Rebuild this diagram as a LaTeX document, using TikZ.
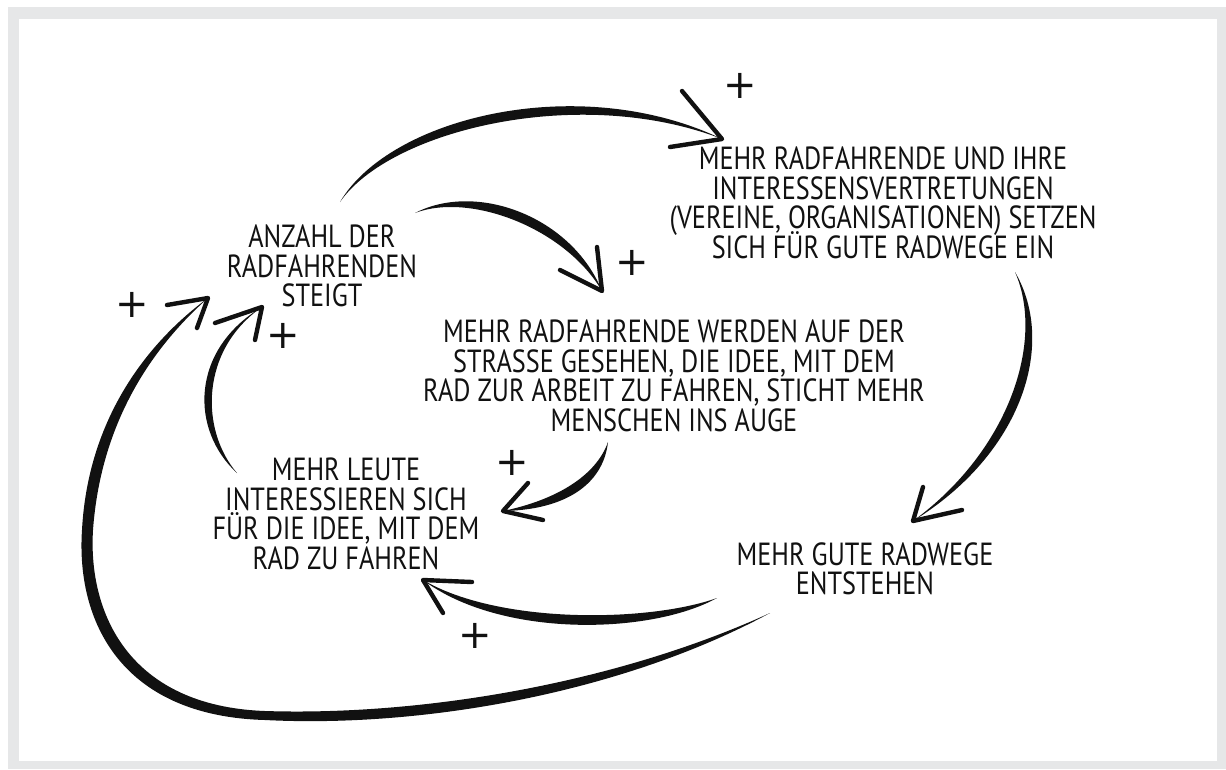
\documentclass[tikz,border=0pt]{standalone}
\usepackage{fontspec}
\usetikzlibrary{calc}
\newfontfamily\handfont[FakeStretch=0.82]{PT Sans}
\newfontfamily\plusfont{DejaVu Sans}
\newcommand*\ideafont{\handfont\fontsize{32}{29.5}\selectfont\lineskiplimit=-30pt\relax}
\definecolor{framegray}{HTML}{E6E7E8}
\definecolor{ink}{HTML}{111111}
% a tapered arrow body: start, control 1, control 2, end, offset of the far edge
\newcommand*\taper[5]{%
  \fill[ink] #1 .. controls #2 and #3 .. #4 .. controls ($#3+#5$) and ($#2+#5$) .. #1;}
\tikzset{
  idea/.style={align=center, inner sep=0pt, text=ink, font=\ideafont},
  plus/.style={inner sep=0pt, text=ink, font=\plusfont\fontsize{40}{40}\selectfont},
  wing/.style={draw=ink, line width=4.4pt, line cap=round, line join=round}
}

\begin{document}
\begin{tikzpicture}[x=1pt,y=-1pt]
  \useasboundingbox (0,0) rectangle (1226,769);

  % Frame
  \fill[framegray] (8,7) rectangle (1226,769);
  \fill[white] (19,19) rectangle (1217,761);

  % The ideas of the loop
  \node[idea] (anzahl) at (322,266) {ANZAHL DER\\RADFAHRENDEN\\STEIGT};
  \node[idea] (vereine) at (883,203) {MEHR RADFAHRENDE UND IHRE\\INTERESSENSVERTRETUNGEN\\(VEREINE, ORGANISATIONEN) SETZEN\\SICH FÜR GUTE RADWEGE EIN};
  \node[idea] (strasse) at (674,376) {MEHR RADFAHRENDE WERDEN AUF DER\\STRASSE GESEHEN, DIE IDEE, MIT DEM\\RAD ZUR ARBEIT ZU FAHREN, STICHT MEHR\\MENSCHEN INS AUGE};
  \node[idea] (leute) at (346,514) {MEHR LEUTE\\INTERESSIEREN SICH\\FÜR DIE IDEE, MIT DEM\\RAD ZU FAHREN};
  \node[idea] (radwege) at (865,569) {MEHR GUTE RADWEGE\\ENTSTEHEN};

  % Ends of the arrows
  \coordinate (anzahl-a) at (340,202);
  \coordinate (anzahl-b) at (415,213);
  \coordinate (anzahl-c) at (208,298);
  \coordinate (anzahl-d) at (262,307);
  \coordinate (vereine-in) at (722,139);
  \coordinate (vereine-out) at (1015,272);
  \coordinate (strasse-in) at (602,291);
  \coordinate (strasse-out) at (608,442);
  \coordinate (radwege-in) at (913,521);
  \coordinate (radwege-a) at (717,598);
  \coordinate (radwege-b) at (770,613);
  \coordinate (leute-in) at (423,580);
  \coordinate (leute-out) at (237,473);
  \coordinate (leute-side) at (503,511);

  % Anzahl -> Vereine
  \taper{(anzahl-a)}{(390,130)}{(580,84)}{(vereine-in)}{(0,-13)}
  \draw[wing] (682,91) -- (vereine-in) -- (670,147);
  \node[plus] (p1) at (740,86) {+};

  % Anzahl -> Strasse
  \taper{(anzahl-b)}{(470,192)}{(565,228)}{(strasse-in)}{(7,-11)}
  \draw[wing] (597,247) -- (strasse-in) -- (560,270);
  \node[plus] (p2) at (632,263) {+};

  % Vereine -> Radwege
  \taper{(vereine-out)}{(1045,340)}{(1010,450)}{(radwege-in)}{(12,4)}
  \draw[wing] (923,487) -- (radwege-in) -- (962,510);

  % Strasse -> Leute
  \taper{(strasse-out)}{(596,476)}{(556,500)}{(leute-side)}{(7,10)}
  \draw[wing] (528,483) -- (leute-side) -- (543,520);
  \node[plus] (p3) at (512,463) {+};

  % Radwege -> Leute
  \taper{(radwege-a)}{(650,622)}{(500,625)}{(leute-in)}{(0,13)}
  \draw[wing] (472,582) -- (leute-in) -- (443,613);
  \node[plus] (p4) at (475,636) {+};

  % Radwege -> Anzahl, the long way round
  \fill[ink] (radwege-b) .. controls (620,694) and (420,728) .. (265,720)
    .. controls (120,716) and (76,620) .. (82,530)
    .. controls (88,418) and (148,342) .. (anzahl-c)
    .. controls (154,346) and (101,420) .. (93,530)
    .. controls (88,612) and (128,706) .. (265,711)
    .. controls (420,716) and (615,684) .. (radwege-b);
  \draw[wing] (167,305) -- (anzahl-c) -- (197,328);
  \node[plus] (p5) at (132,305) {+};

  % Leute -> Anzahl
  \taper{(leute-out)}{(200,430)}{(200,350)}{(anzahl-d)}{(-10,0)}
  \draw[wing] (215,323) -- (anzahl-d) -- (255,340);
  \node[plus] (p6) at (283,336) {+};
\end{tikzpicture}
\end{document}
